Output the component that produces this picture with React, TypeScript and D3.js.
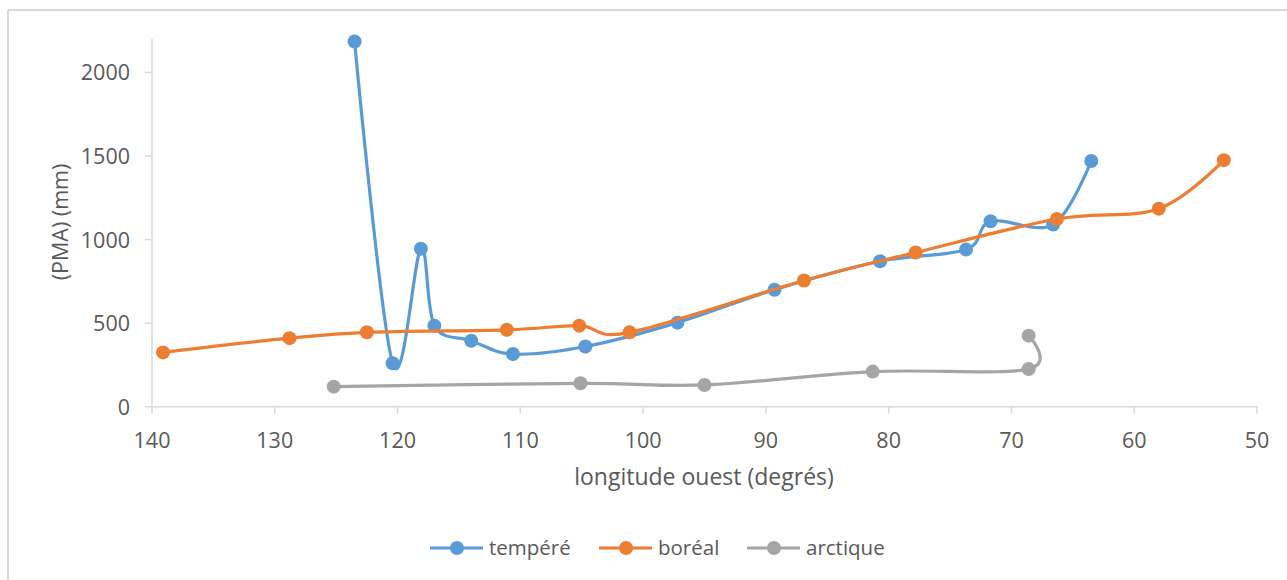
import * as d3 from "d3";

// longitude ouest (degrés) et PMA (mm)
const temperateLon = [123.5, 120.4, 118.1, 117.0, 114.0, 110.6, 104.7, 97.2, 89.3, 80.7, 73.7, 71.7, 66.6, 63.5];
const temperatePma = [2185, 260, 945, 485, 395, 315, 360, 503, 700, 870, 940, 1110, 1090, 1470];

const borealLon = [139.1, 128.8, 122.5, 111.1, 105.2, 101.1, 86.9, 77.8, 66.3, 58.0, 52.7];
const borealPma = [325, 410, 445, 460, 485, 445, 755, 923, 1123, 1185, 1475];

const arcticLon = [125.2, 105.1, 95.0, 81.3, 68.6, 68.6];
const arcticPma = [120, 140, 130, 210, 225, 425];

const xTicks = [140, 130, 120, 110, 100, 90, 80, 70, 60, 50];
const yTicks = [0, 500, 1000, 1500, 2000];

const seriesNames = ["tempéré", "boréal", "arctique"];
const colors = ["#5b9bd5", "#ed7d31", "#a5a5a5"];

const W = 1287;
const H = 580;
const font = "'Open Sans', sans-serif";
const textColor = "#595959";
const axisColor = "#d9d9d9";

export default function App() {
  const x = d3.scaleLinear().domain([140, 50]).range([152, 1257]);
  const y = d3.scaleLinear().domain([0, 2200]).range([406.7, 39]);

  const series = [
    temperateLon.map((lon, i) => [lon, temperatePma[i]]),
    borealLon.map((lon, i) => [lon, borealPma[i]]),
    arcticLon.map((lon, i) => [lon, arcticPma[i]]),
  ];

  const line = d3
    .line<number[]>()
    .x((d) => x(d[0]))
    .y((d) => y(d[1]))
    .curve(d3.curveCardinal.tension(0));

  // legende
  const legendX = [430, 599, 747];
  const legendY = 548;

  return (
    <svg
      width={W}
      height={H}
      style={{ position: "absolute", left: 0, top: 0, background: "#fff" }}
      fontFamily={font}
    >
      <rect x={0} y={0} width={W} height={H} fill="#fff" />
      {/* cadre */}
      <line x1={8} x2={W} y1={10} y2={10} stroke={axisColor} strokeWidth={2} />
      <line x1={8} x2={8} y1={10} y2={H} stroke={axisColor} strokeWidth={2} />

      {/* axes */}
      <line x1={x(140)} x2={x(140)} y1={y(2200)} y2={y(0)} stroke={axisColor} strokeWidth={1.5} />
      <line x1={x(140)} x2={x(50)} y1={y(0)} y2={y(0)} stroke={axisColor} strokeWidth={1.5} />
      {xTicks.map((t) => (
        <g key={"x" + t}>
          <line x1={x(t)} x2={x(t)} y1={y(0)} y2={y(0) + 7} stroke={axisColor} strokeWidth={1.5} />
          <text x={x(t)} y={448} textAnchor="middle" fontSize={21.5} fill={textColor}>
            {t}
          </text>
        </g>
      ))}
      {yTicks.map((t) => (
        <g key={"y" + t}>
          <line x1={x(140) - 7} x2={x(140)} y1={y(t)} y2={y(t)} stroke={axisColor} strokeWidth={1.5} />
          <text x={130} y={y(t) + 8} textAnchor="end" fontSize={21.5} fill={textColor}>
            {t}
          </text>
        </g>
      ))}

      <text x={704} y={485} textAnchor="middle" fontSize={23} fill={textColor}>
        longitude ouest (degrés)
      </text>
      <text
        transform={`translate(68,222) rotate(-90)`}
        textAnchor="middle"
        fontSize={21.5}
        fill={textColor}
      >
        (PMA) (mm)
      </text>

      {/* series */}
      {series.map((s, i) => (
        <g key={"s" + i}>
          <path d={line(s) || ""} fill="none" stroke={colors[i]} strokeWidth={3.2} />
          {s.map((d, j) => (
            <circle key={j} cx={x(d[0])} cy={y(d[1])} r={7} fill={colors[i]} />
          ))}
        </g>
      ))}

      {/* legende */}
      {seriesNames.map((name, i) => (
        <g key={"l" + i}>
          <line
            x1={legendX[i]}
            x2={legendX[i] + 53}
            y1={legendY}
            y2={legendY}
            stroke={colors[i]}
            strokeWidth={3.2}
          />
          <circle cx={legendX[i] + 27} cy={legendY} r={7} fill={colors[i]} />
          <text x={legendX[i] + 59} y={legendY + 7} fontSize={20.5} fill={textColor}>
            {name}
          </text>
        </g>
      ))}
    </svg>
  );
}
